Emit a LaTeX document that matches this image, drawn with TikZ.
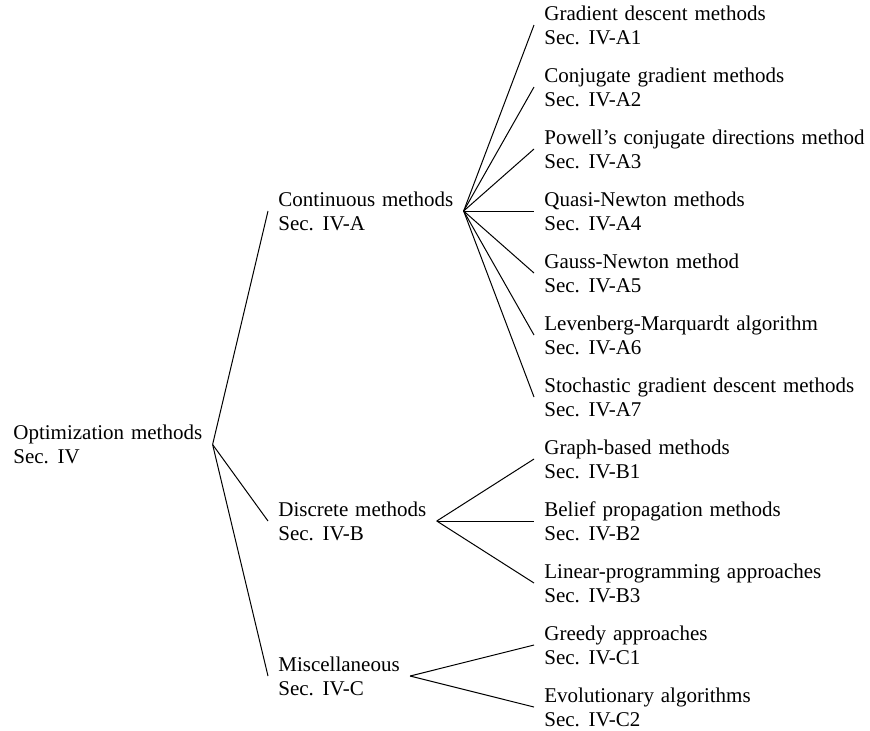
\documentclass[tikz,border=0pt]{standalone}
\usepackage{fontspec}
\setmainfont{Liberation Serif}[WordSpace=1.3]
\begin{document}
\begin{tikzpicture}[x=0.5pt,y=-0.5pt,
  lbl/.style={anchor=west, align=left, inner xsep=5pt, inner ysep=0pt,
              font=\fontsize{10.5}{12}\selectfont},
  conn/.style={line width=0.5pt}]
\useasboundingbox (0,0) rectangle (870,730);
% root
\node[lbl] (root) at (3,444.5) {Optimization methods\\Sec. IV};
% level 1
\node[lbl] (cont) at (268,211) {Continuous methods\\Sec. IV-A};
\node[lbl] (disc) at (268,521) {Discrete methods\\Sec. IV-B};
\node[lbl] (misc) at (268,676) {Miscellaneous\\Sec. IV-C};
% leaves
\node[lbl] (a1) at (534,25)  {Gradient descent methods\\Sec. IV-A1};
\node[lbl] (a2) at (534,87)  {Conjugate gradient methods\\Sec. IV-A2};
\node[lbl] (a3) at (534,149) {Powell's conjugate directions method\\Sec. IV-A3};
\node[lbl] (a4) at (534,211) {Quasi-Newton methods\\Sec. IV-A4};
\node[lbl] (a5) at (534,273) {Gauss-Newton method\\Sec. IV-A5};
\node[lbl] (a6) at (534,335) {Levenberg-Marquardt algorithm\\Sec. IV-A6};
\node[lbl] (a7) at (534,397) {Stochastic gradient descent methods\\Sec. IV-A7};
\node[lbl] (b1) at (534,459) {Graph-based methods\\Sec. IV-B1};
\node[lbl] (b2) at (534,521) {Belief propagation methods\\Sec. IV-B2};
\node[lbl] (b3) at (534,583) {Linear-programming approaches\\Sec. IV-B3};
\node[lbl] (c1) at (534,645) {Greedy approaches\\Sec. IV-C1};
\node[lbl] (c2) at (534,707) {Evolutionary algorithms\\Sec. IV-C2};
% connectors
\foreach \c in {cont,disc,misc} \draw[conn] (root.east) -- (\c.west);
\foreach \c in {a1,a2,a3,a4,a5,a6,a7} \draw[conn] (cont.east) -- (\c.west);
\foreach \c in {b1,b2,b3} \draw[conn] (disc.east) -- (\c.west);
\foreach \c in {c1,c2} \draw[conn] (misc.east) -- (\c.west);
\end{tikzpicture}
\end{document}
